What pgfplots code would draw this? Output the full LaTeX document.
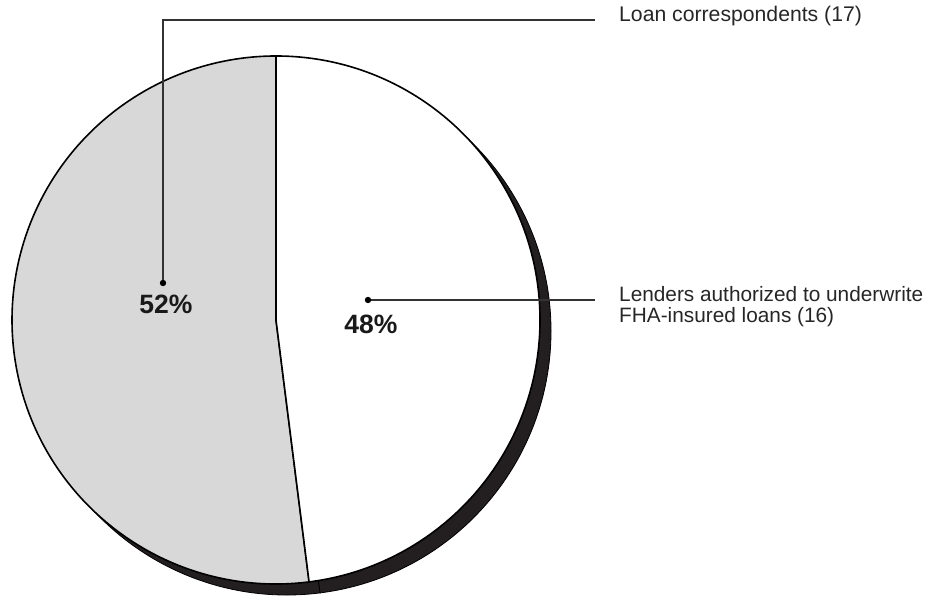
\documentclass[border=0pt]{standalone}
\usepackage{pgfplots}
\pgfplotsset{compat=1.18}
\usepackage{pgfplotstable}
\usepackage{fontspec}
\setmainfont{Liberation Sans}
\definecolor{slicegray}{HTML}{D8D8D8}
\definecolor{shadowc}{HTML}{231F20}
\definecolor{leader}{HTML}{333333}

\pgfplotstableread{
label count pct
Loan 17 52
Lenders 16 48
}\piedata

\begin{document}
\begin{tikzpicture}
\pgfplotstablegetelem{0}{pct}\of\piedata \edef\pctA{\pgfplotsretval}
\pgfplotstablegetelem{1}{pct}\of\piedata \edef\pctB{\pgfplotsretval}
\pgfmathsetmacro\angB{90-3.6*\pctB}
\pgfmathsetmacro\angEnd{90-360}
\begin{axis}[
  scale only axis, width=948pt, height=597pt,
  xmin=0, xmax=948, ymin=0, ymax=597,
  hide axis, clip=false,
]
\addplot[draw=none] coordinates {(0,0) (948,597)};
% shadow (extruded edge)
\filldraw[fill=shadowc, draw=black, line width=0.8pt]
  (axis cs:287,266) -- ++(\angB:264pt) arc[start angle=\angB, end angle=\angEnd, radius=264pt] -- cycle;
\filldraw[fill=shadowc, draw=black, line width=0.8pt]
  (axis cs:287,266) -- ++(90:264pt) arc[start angle=90, end angle=\angB, radius=264pt] -- cycle;
% slices
\filldraw[fill=slicegray, draw=black, line width=1.6pt, line join=round]
  (axis cs:276,277) -- ++(\angB:264pt) arc[start angle=\angB, end angle=\angEnd, radius=264pt] -- cycle;
\filldraw[fill=white, draw=black, line width=1.6pt, line join=round]
  (axis cs:276,277) -- ++(90:264pt) arc[start angle=90, end angle=\angB, radius=264pt] -- cycle;
% leaders
\draw[leader, line width=1.3pt] (axis cs:163,314) -- (axis cs:163,577) -- (axis cs:595,577);
\fill[black] (axis cs:163,314) circle[radius=3.2pt];
\draw[leader, line width=1.3pt] (axis cs:368,297) -- (axis cs:595,297);
\fill[black] (axis cs:368,297) circle[radius=3.2pt];
% labels
\node[anchor=center, font=\fontsize{26.5}{30}\selectfont\bfseries, text=black!90] at (axis cs:166,293) {\pctA\%};
\node[anchor=center, font=\fontsize{26.5}{30}\selectfont\bfseries, text=black!90] at (axis cs:371,273) {\pctB\%};
\node[anchor=west, inner sep=0pt, font=\fontsize{21.2}{22}\selectfont, text=black!85] at (axis cs:619,580.5) {Loan correspondents (17)};
\node[anchor=west, inner sep=0pt, align=left, font=\fontsize{20.8}{21.7}\selectfont, text=black!85] at (axis cs:619,290.5) {Lenders authorized to underwrite\\FHA-insured loans (16)};
\end{axis}
\end{tikzpicture}
\end{document}
